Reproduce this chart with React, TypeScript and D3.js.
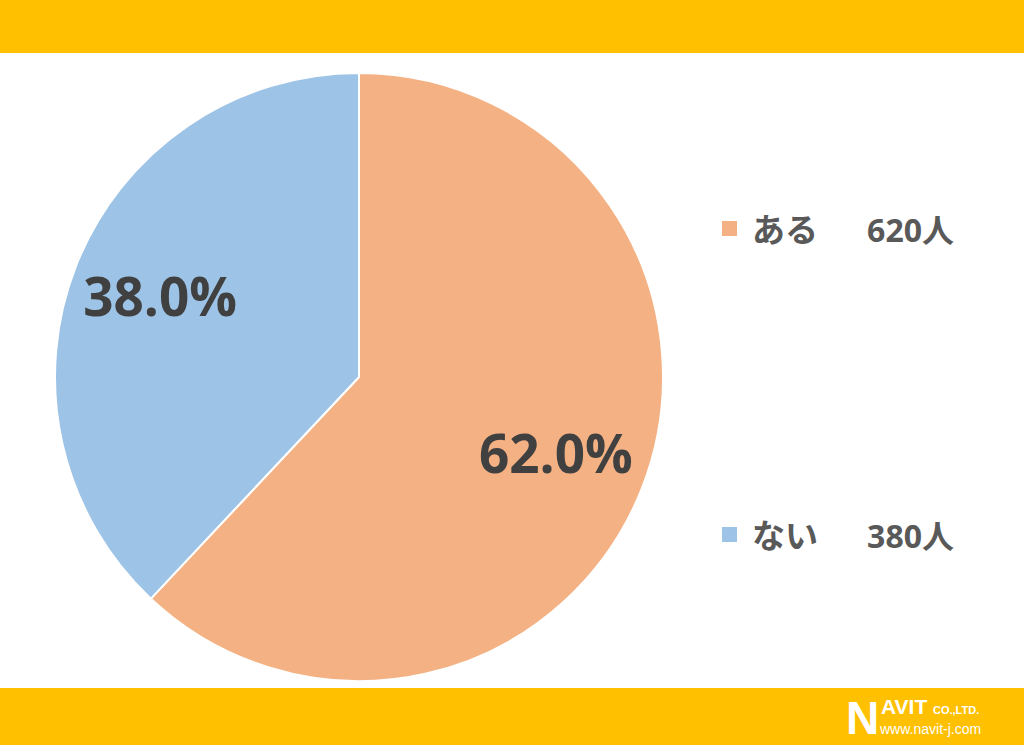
import React from "react";
import * as d3 from "d3";

const categories = ["ある", "ない"];
const counts = [620, 380];
const percents = ["62.0%", "38.0%"];
const colors = ["#F4B183", "#9DC3E6"];

export default function App() {
  const W = 1024, H = 745;
  const cx = 359, cy = 377, r = 304;
  const pie = d3.pie<number>().value((d) => d).sort(null);
  const arcs = pie(counts);
  const arc = d3.arc<d3.PieArcDatum<number>>().innerRadius(0).outerRadius(r);
  const labelArc = d3.arc<d3.PieArcDatum<number>>().innerRadius(r * 0.7).outerRadius(r * 0.7);
  const font = "'Open Sans', 'Noto Sans CJK JP', sans-serif";
  const legendY = [229, 535];
  return (
    <svg width={W} height={H} style={{ position: "absolute", left: 0, top: 0, display: "block" }}>
      <rect x={0} y={0} width={W} height={H} fill="#ffffff" />
      <rect x={0} y={0} width={W} height={53} fill="#FFC000" />
      <rect x={0} y={688} width={W} height={57} fill="#FFC000" />
      <g transform={`translate(${cx},${cy})`}>
        {arcs.map((a, i) => (
          <path key={i} d={arc(a) || ""} fill={colors[i]} stroke="#ffffff" strokeWidth={2} />
        ))}
        {arcs.map((a, i) => {
          const [x, y] = labelArc.centroid(a);
          return (
            <text key={"t" + i} x={x - 1} y={y - 3} textAnchor="middle" dominantBaseline="central"
              fontFamily={font} fontWeight={700} fontSize={53} fill="#404040">
              {percents[i]}
            </text>
          );
        })}
      </g>
      {categories.map((c, i) => (
        <g key={"l" + i}>
          <rect x={722} y={legendY[i] - 8} width={15} height={15} fill={colors[i]} />
          <text x={752} y={legendY[i]} dominantBaseline="central" fontFamily={font}
            fontWeight={700} fontSize={33} fill="#595959">{c}</text>
          <text x={954} y={legendY[i]} textAnchor="end" dominantBaseline="central" fontFamily={font}
            fontWeight={700} fontSize={32} fill="#595959">{counts[i] + "人"}</text>
        </g>
      ))}
      <g fill="#ffffff" fontFamily="'Liberation Sans', Arial, sans-serif" fontWeight={700}>
        <text x={846} y={734} fontSize={46}>N</text>
        <text x={881} y={714} fontSize={21}>AVIT</text>
        <text x={933} y={714} fontSize={11}>CO.,LTD.</text>
        <text x={880} y={734} fontSize={14} fontWeight={400}>www.navit-j.com</text>
      </g>
    </svg>
  );
}
